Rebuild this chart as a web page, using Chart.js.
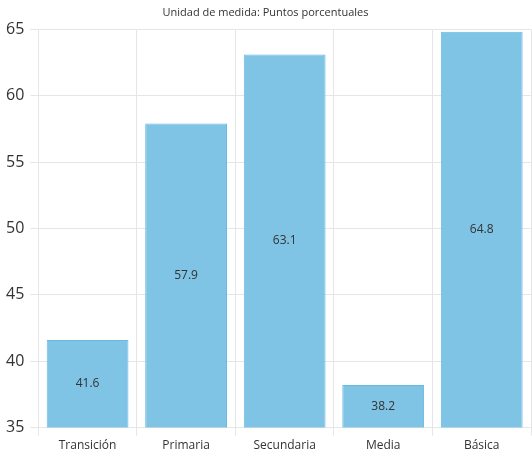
<!DOCTYPE html>
<html>
<head>
<meta charset="utf-8">
<script src="https://cdn.jsdelivr.net/npm/chart.js@4/dist/chart.umd.min.js"></script>
<style>
  html, body { margin: 0; padding: 0; background: #fff; }
  #wrap { width: 532px; height: 456px; position: relative; }
</style>
</head>
<body>
<div id="wrap"><canvas id="c"></canvas></div>
<script>
const categories = ['Transición', 'Primaria', 'Secundaria', 'Media', 'Básica'];
const values = [41.6, 57.9, 63.1, 38.2, 64.8];
const yMin = 35;
const yMax = 65;
const yStep = 5;

// draws each value in the middle of the visible part of its bar
const centerLabels = {
    id: 'centerLabels',
    afterDatasetsDraw(chart) {
        const ctx = chart.ctx;
        const meta = chart.getDatasetMeta(0);
        const bottom = chart.scales.y.getPixelForValue(yMin);
        ctx.save();
        ctx.font = '12px "Open Sans", sans-serif';
        ctx.fillStyle = '#333';
        ctx.textAlign = 'center';
        ctx.textBaseline = 'middle';
        meta.data.forEach((bar, i) => {
            const mid = (bar.y + bottom) / 2;
            ctx.fillText(String(values[i]), bar.x, mid);
        });
        ctx.restore();
    }
};

new Chart(document.getElementById('c'), {
    type: 'bar',
    data: {
        labels: categories,
        datasets: [{
            data: values,
            backgroundColor: '#7fc3e5',
            borderColor: '#69b8e0',
            borderWidth: 1,
            barPercentage: 0.83,
            categoryPercentage: 1
        }]
    },
    options: {
        responsive: true,
        maintainAspectRatio: false,
        animation: false,
        layout: { padding: { left: 0, right: 1, top: 0, bottom: 0 } },
        plugins: {
            legend: { display: false },
            tooltip: { enabled: false },
            title: {
                display: true,
                text: 'Unidad de medida: Puntos porcentuales',
                color: '#333',
                font: { family: '"Open Sans", sans-serif', size: 11, weight: 'normal' },
                padding: { top: 6, bottom: 10 }
            }
        },
        scales: {
            x: {
                grid: { color: '#e6e6e6', offset: true },
                border: { display: false },
                ticks: {
                    color: '#333',
                    font: { family: '"Open Sans", sans-serif', size: 12 }
                }
            },
            y: {
                min: yMin,
                max: yMax,
                grid: { color: '#e6e6e6' },
                border: { display: false },
                ticks: {
                    stepSize: yStep,
                    color: '#333',
                    padding: 6,
                    font: { family: '"Open Sans", sans-serif', size: 16 }
                }
            }
        }
    },
    plugins: [centerLabels]
});
</script>
</body>
</html>
